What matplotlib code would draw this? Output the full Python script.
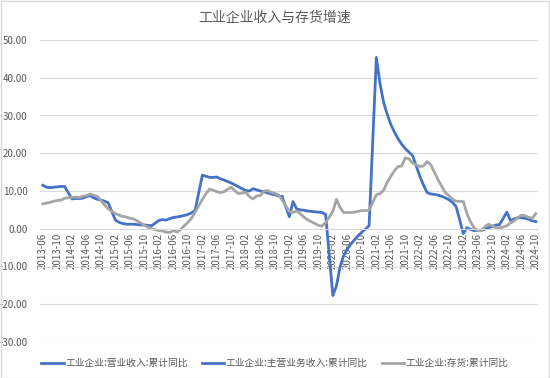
import matplotlib
matplotlib.use('Agg')
import matplotlib.pyplot as plt
from matplotlib.patches import Rectangle
from matplotlib.ticker import FormatStrFormatter
import pandas as pd

plt.rcParams['font.family'] = ['Noto Sans CJK SC', 'DejaVu Sans']
plt.rcParams['axes.unicode_minus'] = False

title = '工业企业收入与存货增速'
names = ['工业企业:营业收入:累计同比', '工业企业:主营业务收入:累计同比', '工业企业:存货:累计同比']

# monthly cumulative yoy (%), January not published (Jan-Feb combined)
# 主营业务收入: 2013-06 .. 2018-12
main_rev = [11.5, 11.0, 10.9, 11.0, 11.1, 11.2, 11.2,
            7.9, 8.0, 8.0, 8.1, 8.5, 8.8, 8.2, 7.8, 7.6, 7.3, 6.9,
            2.3, 1.7, 1.4, 1.2, 1.2, 1.2, 1.1, 1.0, 1.0, 0.9, 0.8,
            2.2, 2.4, 2.3, 2.7, 3.0, 3.1, 3.3, 3.5, 3.8, 4.2, 4.9,
            14.2, 13.9, 13.6, 13.6, 13.7, 13.2, 12.9, 12.5, 12.1, 11.6, 11.1,
            10.1, 10.0, 10.6, 10.3, 10.0, 9.8, 9.5, 9.2, 9.0, 8.7, 8.5]
# 营业收入: 2018-12 .. 2024-10
revenue = [8.5,
           3.2, 7.2, 5.3, 5.0, 4.9, 4.7, 4.6, 4.5, 4.4, 4.3, 3.8,
           -17.7, -15.1, -10.1, -7.0, -5.4, -4.0, -2.9, -1.8, -0.9, -0.1, 0.8,
           45.4, 38.5, 33.5, 30.3, 27.6, 25.6, 23.8, 22.4, 21.2, 20.3, 19.4,
           13.9, 11.6, 9.6, 9.2, 9.1, 8.9, 8.6, 8.2, 7.7, 7.0, 5.9,
           -1.3, 0.3, -0.2, -0.5, -0.4, -0.4, -0.1, 0.3, 0.6, 1.0, 1.1,
           4.4, 2.2, 2.6, 2.9, 2.9, 2.8, 2.5, 2.1, 1.9]
# 存货: 2013-06 .. 2024-10
inventory = [6.6, 6.8, 7.0, 7.3, 7.5, 7.6, 8.1,
             8.3, 8.4, 8.3, 8.6, 8.8, 9.2, 8.9, 8.6, 7.5, 6.3, 5.3,
             4.0, 3.6, 3.3, 3.1, 2.8, 2.6, 2.1, 1.5, 0.9, 0.4, 0.0,
             -0.5, -0.6, -0.9, -1.0, -0.5, -0.9, -0.2, 0.8, 1.7, 2.8, 4.4,
             7.8, 9.3, 10.5, 10.2, 9.8, 9.6, 9.8, 10.5, 11.0, 10.0, 9.3,
             9.6, 8.5, 7.9, 8.7, 8.8, 10.0, 10.1, 9.7, 9.4, 9.0, 7.6,
             4.6, 4.3, 4.7, 4.0, 3.1, 2.4, 1.9, 1.4, 0.9, 0.7, 1.6,
             4.6, 7.8, 5.6, 4.3, 4.3, 4.3, 4.4, 4.6, 4.8, 4.8, 4.9,
             9.0, 9.3, 10.2, 12.3, 13.9, 15.4, 16.5, 16.6, 18.8, 18.5, 17.4,
             16.5, 16.6, 17.8, 17.0, 15.0, 13.0, 11.3, 9.6, 8.8, 7.8, 7.3,
             7.2, 4.0, 1.8, 0.2, -0.5, -0.5, 0.6, 1.2, 0.8, 0.3, 0.2,
             0.8, 1.5, 2.1, 2.9, 3.6, 3.5, 3.0, 2.8, 4.0]

first, last = '2013-06', '2024-10'


def month_pos(start, end):
    p = pd.period_range(start, end, freq='M')
    p = p[p.month != 1]
    return (p.year - 2013) * 12 + p.month - 6


all_months = pd.period_range(first, last, freq='M')
tick_pos = list(range(0, len(all_months), 4))
tick_lab = [all_months[i].strftime('%Y-%m') for i in tick_pos]

blue = '#4472C4'
gray = '#A5A5A5'
txt = '#595959'
grid = '#D9D9D9'

fig = plt.figure(figsize=(5.5, 3.78), dpi=100)
fig.patches.append(Rectangle((0.001, 0.001), 0.997, 0.996, transform=fig.transFigure,
                             fill=False, edgecolor=grid, linewidth=1))
ax = fig.add_axes([40 / 550, 36 / 378, 498 / 550, 302 / 378])

ax.plot(month_pos('2018-12', last), revenue, color=blue, lw=2.0, label=names[0])
ax.plot(month_pos(first, '2018-12'), main_rev, color=blue, lw=2.0, label=names[1])
ax.plot(month_pos(first, last), inventory, color=gray, lw=2.0, label=names[2])

ax.set_ylim(-30, 50)
ax.set_yticks(range(-30, 51, 10))
ax.yaxis.set_major_formatter(FormatStrFormatter('%.2f'))
ax.set_xlim(-0.8, len(all_months) - 0.4)
ax.set_xticks(tick_pos)
ax.set_xticklabels(tick_lab)

ax.grid(axis='y', color=grid, lw=0.8)
ax.set_axisbelow(True)
for s in ['top', 'right', 'left']:
    ax.spines[s].set_visible(False)
ax.spines['bottom'].set_position(('data', 0))
ax.spines['bottom'].set_color(grid)
ax.tick_params(axis='both', length=0, colors=txt)
ax.tick_params(axis='y', labelsize=7, pad=9)
ax.tick_params(axis='x', labelsize=7, pad=3, labelrotation=90)

fig.text(0.5, 1 - 18 / 378, title, ha='center', va='center', fontsize=10, color=txt)
leg = fig.legend(loc='center', bbox_to_anchor=(0.5, 1 - 363 / 378), ncol=3, frameon=False,
                 fontsize=7, handlelength=2.3, handletextpad=0.2, columnspacing=1.4)
for t in leg.get_texts():
    t.set_color(txt)

fig.savefig('out.png', dpi=100, facecolor='white')
